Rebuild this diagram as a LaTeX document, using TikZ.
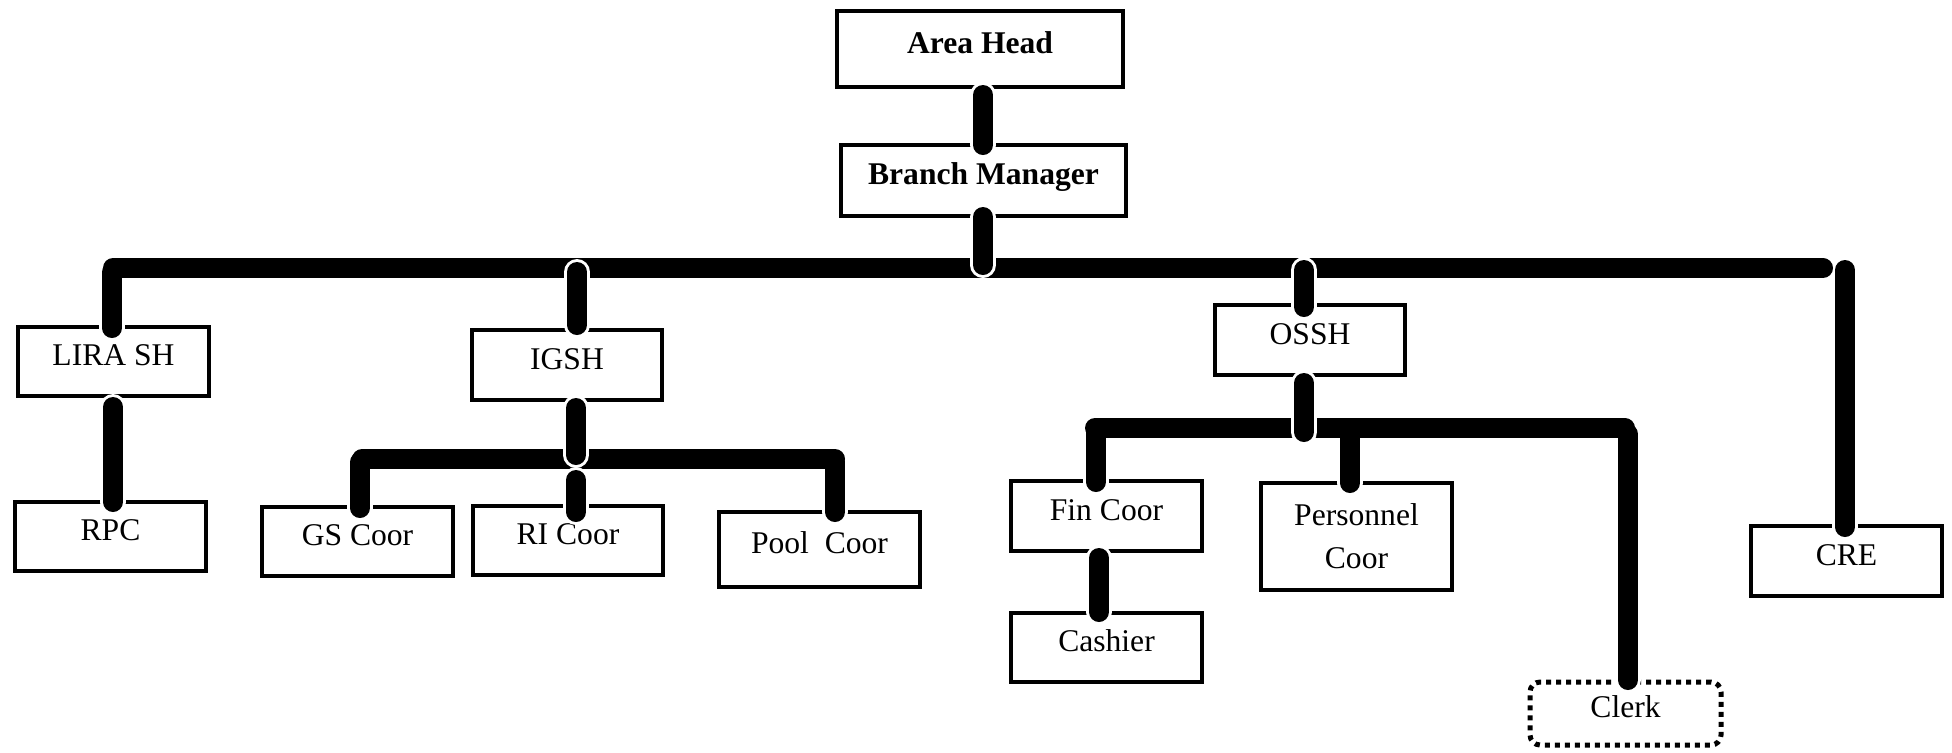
\documentclass[tikz,border=0pt]{standalone}
\usepackage{fontspec}
\setmainfont{Liberation Serif}
\begin{document}
\begin{tikzpicture}[x=0.5pt, y=-0.5pt,
  box/.style={draw=black, line width=2pt, rectangle, inner sep=0pt, outer sep=0pt,
    font=\fontsize{15.8}{21.5}\selectfont, text height=0.68em, text depth=0.25em},
  twoline/.style={draw=black, line width=2pt, rectangle, inner sep=0pt, outer sep=0pt,
    font=\fontsize{15.8}{21.5}\selectfont, align=center},
  dottedbox/.style={box, line width=2.5pt, dash pattern=on 2.5pt off 2.5pt, rounded corners=5pt},
  bus/.style={line width=10pt, line cap=round},
  link/.style={line width=10pt, line cap=round, preaction={draw=white, line width=13pt, line cap=round}},
]
\useasboundingbox (0,0) rectangle (1952,752);

% boxes (sizes in pt)
\node[box, minimum width=143pt, minimum height=38pt] (ah) at (980,49) {\bfseries Area Head};
\node[box, minimum width=142.5pt, minimum height=35.5pt] (bm) at (983.5,180.5) {\bfseries Branch Manager};
\node[box, minimum width=95.5pt, minimum height=34.5pt] (lira) at (113.5,361.5) {LIRA SH};
\node[box, minimum width=95.5pt, minimum height=34.5pt] (rpc) at (110.5,536.5) {RPC};
\node[box, minimum width=95pt, minimum height=35pt] (igsh) at (567,365) {IGSH};
\node[box, minimum width=95.5pt, minimum height=34.5pt] (gs) at (357.5,541.5) {GS Coor};
\node[box, minimum width=95pt, minimum height=34.5pt] (ri) at (568,540.5) {RI Coor};
\node[box, minimum width=100.5pt, minimum height=37.5pt] (pool) at (819.5,549.5) {Pool\ \ Coor};
\node[box, minimum width=95pt, minimum height=35pt] (ossh) at (1310,340) {OSSH};
\node[box, minimum width=95.5pt, minimum height=35pt] (fin) at (1106.5,516) {Fin Coor};
\node[box, minimum width=95.5pt, minimum height=34.5pt] (cash) at (1106.5,647.5) {Cashier};
\node[twoline, minimum width=95.5pt, minimum height=53.5pt] (pers) at (1356.5,536.5) {Personnel\\Coor};
\node[box, minimum width=95.5pt, minimum height=35pt] (cre) at (1846.5,561) {CRE};
\node[dottedbox, minimum width=95.5pt, minimum height=31.5pt] (clerk) at (1625.5,713.5) {Clerk};

% bus end points
\coordinate (mL) at (113,268);
\coordinate (mR) at (1823,268);
\coordinate (iL) at (362,459);
\coordinate (iR) at (835,459);
\coordinate (oL) at (1095,428);
\coordinate (oR) at (1625,428);

% drops that hang below a bus
\draw[link] (112,272) -- (112,328);
\draw[link] (360,462) -- (360,508);
\draw[link] (835,462) -- (835,512);
\draw[link] (1096,432) -- (1096,482);
\draw[link] (1350,434) -- (1350,483);
\draw[link] (1628,434) -- (1628,680);
\draw[link] (1845,270) -- (1845,527);

% buses
\draw[bus] (mL) -- (mR);
\draw[bus] (iL) -- (iR);
\draw[bus] (oL) -- (oR);

% links that cross a bus or join two boxes
\draw[link] (983,95) -- (983,145);
\draw[link] (983,217) -- (983,265);
\draw[link] (577,272) -- (577,325);
\draw[link] (576,408) -- (576,455);
\draw[link] (576,480) -- (576,512);
\draw[link] (1304,270) -- (1304,307);
\draw[link] (1304,383) -- (1304,432);
\draw[link] (1099,558) -- (1099,612);
\draw[link] (113,407) -- (113,502);
\end{tikzpicture}
\end{document}
